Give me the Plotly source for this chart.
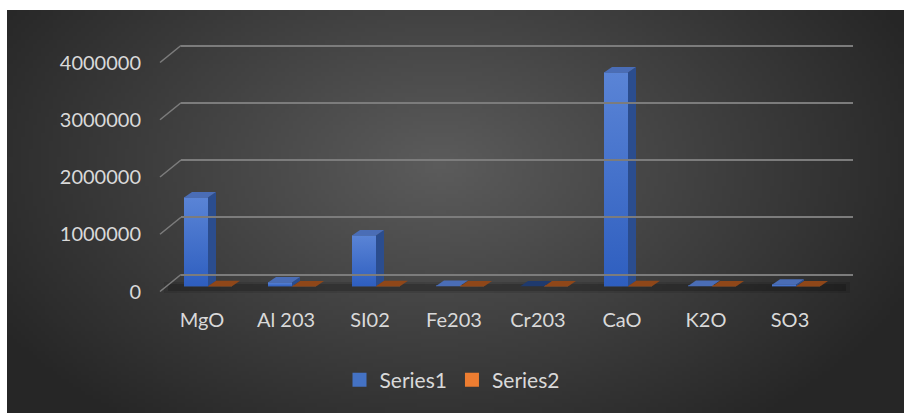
import base64
import struct
import zlib

import numpy as np
import plotly.graph_objects as go

# ---------------- data ----------------
categories = ["MgO", "Al 203", "SI02", "Fe203", "Cr203", "CaO", "K2O", "SO3"]
series1 = [1555000, 70000, 890000, 8000, 0, 3740000, 10000, 30000]
series2 = [3000, 2000, 2500, 1000, 1000, 4000, 1000, 1500]
y_ticks = [0, 1000000, 2000000, 3000000, 4000000]
y_tick_labels = ["0", "1000000", "2000000", "3000000", "4000000"]

# ---------------- geometry helpers ----------------
W, H = 904, 413
YMAX = 4000000


def px(x):
    return x / W


def py(y):
    return 1 - y / H


FONT = "Lato, 'Open Sans', sans-serif"
TXT = "#D9D9D9"
GRID = "#7C7C7C"


# ---------------- background gradient (PNG built in memory) ----------------
def make_png(arr):
    h, w, _ = arr.shape
    raw = b"".join(b"\x00" + arr[i].tobytes() for i in range(h))

    def chunk(tag, data):
        c = struct.pack(">I", len(data)) + tag + data
        return c + struct.pack(">I", zlib.crc32(tag + data) & 0xFFFFFFFF)

    return (b"\x89PNG\r\n\x1a\n"
            + chunk(b"IHDR", struct.pack(">IIBBBBB", w, h, 8, 2, 0, 0, 0))
            + chunk(b"IDAT", zlib.compress(raw, 9))
            + chunk(b"IEND", b""))


gw, gh = 224, 100
gx = np.linspace(7, W, gw)[None, :]
gy = np.linspace(10, H, gh)[:, None]
r = np.sqrt(((gx - 440) / 520) ** 2 + ((gy - 165) / 330) ** 2)
val = 92 - (92 - 38) * np.clip(r, 0, 1)
img = np.repeat(val[:, :, None], 3, axis=2).astype(np.uint8)
bg_uri = "data:image/png;base64," + base64.b64encode(make_png(img)).decode()

# ---------------- figure ----------------
fig = go.Figure()
idx = list(range(len(categories)))

# front plane (labels)
fig.add_trace(go.Scatter(x=idx, y=[0] * len(idx), xaxis="x", yaxis="y",
                         mode="markers", marker=dict(opacity=0),
                         hoverinfo="skip", showlegend=False))
# back wall (gridlines)
fig.add_trace(go.Scatter(x=idx, y=[0] * len(idx), xaxis="x3", yaxis="y3",
                         mode="markers", marker=dict(opacity=0),
                         hoverinfo="skip", showlegend=False))

BW = 24 / 84          # bar width in category units
DX = 8 / 84           # depth offset (x) in category units
DY = 5.5 / 229 * YMAX  # depth offset (y) in value units


def add_series(name, values, offset, legend_color, front_scale, side_color,
               top_color, top_zero_color):
    fig.add_trace(go.Bar(x=idx, y=values, name=name, offset=offset, width=BW,
                         marker=dict(color=legend_color, line=dict(width=0)),
                         xaxis="x2", yaxis="y2", hoverinfo="skip",
                         showlegend=False))
    for i, v in enumerate(values):
        x0 = i + offset
        x1 = x0 + BW
        if v > 0:
            fig.add_trace(go.Scatter(
                x=[x0, x1, x1, x0, x0], y=[0, 0, v, v, 0], xaxis="x2", yaxis="y2",
                mode="lines", line=dict(width=0), fill="toself",
                fillgradient=dict(type="vertical", colorscale=front_scale),
                hoverinfo="skip", showlegend=False))
            fig.add_trace(go.Scatter(
                x=[x1, x1 + DX, x1 + DX, x1, x1], y=[0, DY, v + DY, v, 0],
                xaxis="x2", yaxis="y2", mode="lines", line=dict(width=0),
                fill="toself", fillcolor=side_color, hoverinfo="skip",
                showlegend=False))
        fig.add_trace(go.Scatter(
            x=[x0, x1, x1 + DX, x0 + DX, x0], y=[v, v, v + DY, v + DY, v],
            xaxis="x2", yaxis="y2", mode="lines", line=dict(width=0),
            fill="toself", fillcolor=top_color if v > 0 else top_zero_color,
            hoverinfo="skip", showlegend=False))
    # legend entry (square swatch)
    fig.add_trace(go.Scatter(x=[None], y=[None], xaxis="x2", yaxis="y2",
                             mode="markers", name=name,
                             marker=dict(symbol="square", size=14,
                                         color=legend_color,
                                         line=dict(width=0)),
                             hoverinfo="skip", showlegend=True))


add_series("Series1", series1, -BW, "#4472C4",
           [[0, "#2E5EBF"], [1, "#5A84D6"]], "#2B4D8E", "#4A6DB6", "#1F3A6E")
add_series("Series2", series2, 0.0, "#ED7D31",
           [[0, "#A04E18"], [1, "#B85A1C"]], "#6A3510", "#8F4719", "#8F4719")

# ---------------- shapes: floor shadow + diagonals ----------------
shapes = [
    dict(type="rect", xref="paper", yref="paper", x0=px(164), x1=px(850),
         y0=py(293), y1=py(282), fillcolor="rgba(0,0,0,0.10)",
         line=dict(width=0), layer="below"),
    dict(type="rect", xref="paper", yref="paper", x0=px(168), x1=px(846),
         y0=py(291), y1=py(284), fillcolor="rgba(0,0,0,0.18)",
         line=dict(width=0), layer="below"),
]
for v in y_ticks:
    off = v / YMAX * 229
    shapes.append(dict(type="line", xref="paper", yref="paper",
                       x0=px(160), y0=py(291.5 - off),
                       x1=px(181), y1=py(274.5 - off),
                       line=dict(color=GRID, width=1.6), layer="below"))

PAD = 4  # px of padding so edge gridlines are not clipped
fig.update_layout(
    template="none",
    width=W, height=H,
    margin=dict(l=0, r=0, t=0, b=0, pad=0, autoexpand=False),
    paper_bgcolor="white",
    plot_bgcolor="rgba(0,0,0,0)",
    barmode="overlay",
    font=dict(family=FONT, size=20, color=TXT),
    images=[dict(source=bg_uri, xref="paper", yref="paper", x=px(7), y=py(10),
                 sizex=px(W - 7), sizey=(H - 10) / H, sizing="stretch",
                 xanchor="left", yanchor="top", layer="below")],
    shapes=shapes,
    xaxis=dict(domain=[px(160), px(832)], range=[-0.5, 7.5], anchor="y",
               tickmode="array", tickvals=idx, ticktext=categories,
               showgrid=False, zeroline=False, showline=False, ticks="",
               ticklabelstandoff=14, automargin=False,
               tickfont=dict(family=FONT, size=20, color=TXT)),
    yaxis=dict(domain=[py(291.5), py(62.5)], range=[0, YMAX], anchor="x",
               tickmode="array", tickvals=y_ticks, ticktext=y_tick_labels,
               showgrid=False, zeroline=False, showline=False, ticks="",
               ticklabelstandoff=18, automargin=False,
               tickfont=dict(family=FONT, size=20, color=TXT)),
    xaxis2=dict(domain=[px(166), px(838)], range=[-0.5, 7.5], anchor="y2",
                visible=False, automargin=False),
    yaxis2=dict(domain=[py(286.5), py(57.5)], range=[0, YMAX], anchor="x2",
                visible=False, automargin=False),
    xaxis3=dict(domain=[px(181), px(853)], range=[-0.5, 7.5], anchor="y3",
                showgrid=False, zeroline=False, showline=False,
                showticklabels=False, ticks="", automargin=False),
    yaxis3=dict(domain=[py(274.5 + PAD), py(45.5 - PAD)],
                range=[-PAD / 229 * YMAX, YMAX + PAD / 229 * YMAX],
                anchor="x3", tickmode="array", tickvals=y_ticks,
                showgrid=True, gridcolor=GRID, gridwidth=2, zeroline=False,
                showline=False, showticklabels=False, ticks="",
                automargin=False),
    legend=dict(orientation="h", x=0.5, xanchor="center", y=py(380),
                yanchor="middle", bgcolor="rgba(0,0,0,0)",
                font=dict(family=FONT, size=21, color=TXT),
                itemsizing="trace", itemwidth=30, tracegroupgap=0),
    showlegend=True,
)

fig.write_html("out.html")
